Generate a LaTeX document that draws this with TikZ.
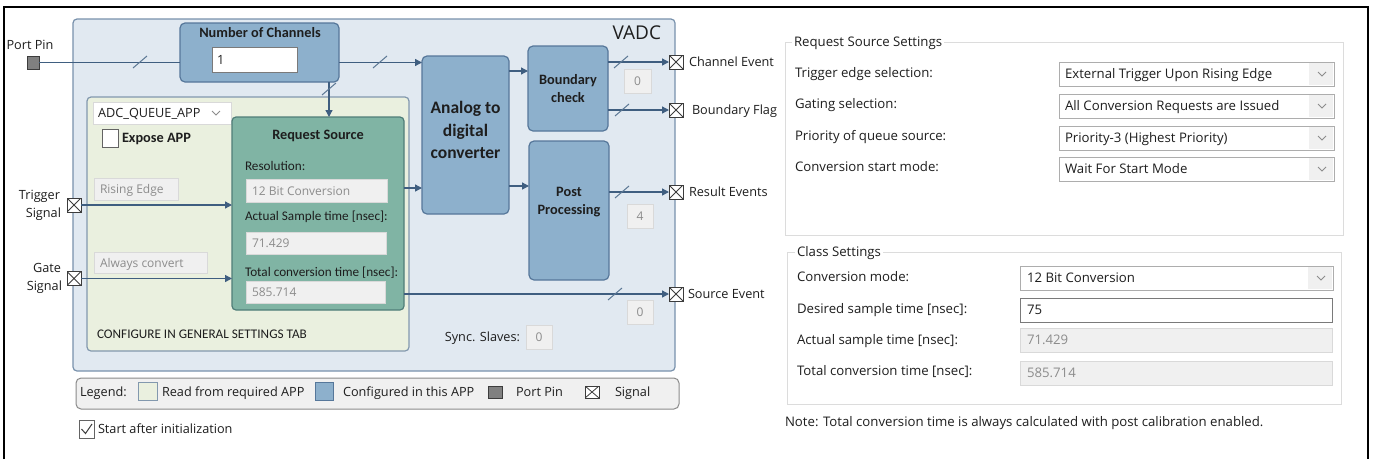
\documentclass[tikz,border=0pt]{standalone}
\usepackage{fontspec}
\setmainfont{Open Sans}
\newfontfamily\calfont{Carlito}
\usetikzlibrary{arrows.meta,calc}
\definecolor{vadcfill}{HTML}{E1E9F1}
\definecolor{vadcbord}{HTML}{7891AC}
\definecolor{bfill}{HTML}{8DB0CC}
\definecolor{bbord}{HTML}{56779A}
\definecolor{gfill}{HTML}{EAF0DF}
\definecolor{gbord}{HTML}{8298AE}
\definecolor{rsfill}{HTML}{80B4A4}
\definecolor{rsbord}{HTML}{4F7D78}
\definecolor{arrowc}{HTML}{3F5E80}
\definecolor{slashc}{HTML}{5B7794}
\definecolor{valfill}{HTML}{F0F0F0}
\definecolor{valbord}{HTML}{D9D9D9}
\definecolor{valtext}{HTML}{8C8C8C}
\definecolor{legfill}{HTML}{F0F0F0}
\definecolor{legbord}{HTML}{8A8A8A}
\definecolor{grpc}{HTML}{DCDCDC}
\definecolor{ddbord}{HTML}{ADADAD}
\definecolor{inbord}{HTML}{7A7A7A}
\definecolor{sigc}{HTML}{3C3C3C}
\definecolor{txtc}{HTML}{1E1E1E}
\newcommand\mkslash[1]{\draw[slashc, line width=1pt] ($(#1)+(-7,6)$) -- ($(#1)+(7,-6)$);}
\newcommand\mkchev[1]{\draw[valtext, line width=0.9pt] ($(#1)+(-4,-2)$) -- ++(4,4) -- ++(4,-4);}
\begin{document}
\begin{tikzpicture}[x=1pt,y=-1pt,
  every node/.style={inner sep=0pt, outer sep=0pt, text=txtc},
  vadcst/.style={draw=vadcbord, fill=vadcfill, rounded corners=4pt, line width=1.2pt, anchor=north west},
  blk/.style={draw=bbord, fill=bfill, rounded corners=5pt, line width=1.2pt, anchor=north west},
  grnst/.style={draw=gbord, fill=gfill, rounded corners=4pt, line width=1.2pt, anchor=north west},
  rsst/.style={draw=rsbord, fill=rsfill, rounded corners=4pt, line width=1.2pt, anchor=north west},
  valbox/.style={draw=valbord, fill=valfill, line width=0.8pt, anchor=north west},
  inbox/.style={draw=inbord, fill=white, line width=0.8pt, anchor=north west},
  ddbox/.style={draw=ddbord, fill=white, line width=0.8pt, anchor=north west},
  legst/.style={draw=legbord, fill=legfill, rounded corners=5pt, line width=1pt, anchor=north west},
  grpst/.style={draw=grpc, line width=1pt, anchor=north west},
  sq/.style={line width=1pt, anchor=north west},
  sig/.style={draw=sigc, fill=white, minimum width=14pt, minimum height=14pt, line width=0.9pt,
    path picture={\draw[sigc, line width=0.8pt] (path picture bounding box.north west) -- (path picture bounding box.south east) (path picture bounding box.north east) -- (path picture bounding box.south west);}},
  arr/.style={draw=arrowc, line width=1.3pt, -{Triangle[length=7pt,width=7pt]}},
  ln/.style={draw=arrowc, line width=1.3pt},
  tx/.style={font=\fontsize{12.7}{15}\selectfont, text height=9pt, text depth=0pt},
  trp/.style={font=\fontsize{13.2}{16}\selectfont, text height=9pt, text depth=0pt},
  tgv/.style={font=\fontsize{12}{14}\selectfont, text height=9pt, text depth=0pt, text=valtext},
  tcal/.style={font=\calfont\fontsize{13.2}{16}\selectfont, text height=9pt, text depth=0pt},
  tcb/.style={font=\calfont\bfseries\fontsize{14.3}{18}\selectfont, align=center},
]
\useasboundingbox (0,0) rectangle (1373,459);
\fill[white] (0,0) rectangle (1373,459);
% outer frame
\draw[black, line width=2pt] (4,459) -- (4,7) -- (1368,7) -- (1368,459);

% ---------------- left diagram ----------------
\node[vadcst, minimum width=602pt, minimum height=352pt] (vadc) at (73,19) {};
\node[font=\fontsize{19}{22}\selectfont, anchor=east, text height=13pt, text depth=0pt] (vadcl) at (661,33) {VADC};

% Port pin
\node[sq, draw=sigc, fill=black!50, minimum width=12pt, minimum height=13pt] (pp) at (27,56) {};
\node[tx] (ppl) at (30,45) {Port Pin};

% Number of channels
\node[blk, minimum width=159pt, minimum height=59pt] (nc) at (180,23) {};
\node[tcb] (nct) at (260,33) {Number of Channels};
\node[inbox, minimum width=85pt, minimum height=25pt] (ncin) at (212,47) {};
\node[tx, anchor=west] (ncv) at (217,59.5) {1};

% ADC
\node[blk, minimum width=87pt, minimum height=158pt] (adc) at (422,56) {};
\node[font=\calfont\bfseries\fontsize{17.5}{22.5}\selectfont, align=center] (adct) at (465.5,130) {Analog to\\digital\\converter};

% Boundary check
\node[blk, minimum width=80pt, minimum height=85pt] (bc) at (528,46) {};
\node[tcb] (bct) at (568,89) {Boundary\\check};

% Post processing
\node[blk, minimum width=80pt, minimum height=139pt] (pst) at (529,141) {};
\node[tcb] (pstt) at (569,202) {Post\\Processing};

% green container
\node[grnst, minimum width=322pt, minimum height=254pt] (grn) at (87,97) {};
\node[ddbox, draw=valbord, minimum width=138pt, minimum height=22pt] (dd) at (93,102) {};
\node[tx, anchor=west] (ddt) at (98,113) {ADC\_QUEUE\_APP};
\mkchev{216,113}
\node[sq, draw=sigc!80, fill=white, line width=0.8pt, minimum width=16pt, minimum height=18pt] (exb) at (102,129) {};
\node[font=\calfont\bfseries\fontsize{14.3}{17}\selectfont, text height=9pt, text depth=0pt, anchor=west] (ext) at (122,138) {Expose APP};
\node[valbox, minimum width=84pt, minimum height=22pt] (rise) at (94,178) {};
\node[tgv, anchor=west] (riset) at (100,189) {Rising Edge};
\node[valbox, minimum width=113pt, minimum height=21pt] (alw) at (94,252) {};
\node[tgv, anchor=west] (alwt) at (100,262.5) {Always convert};
\node[tcal, anchor=west] (cfg) at (97,334) {CONFIGURE IN GENERAL SETTINGS TAB};

% Request source
\node[rsst, minimum width=172pt, minimum height=193pt] (rs) at (232,117) {};
\node[tcb] (rst) at (318,136) {Request Source};
\node[tcal, anchor=west] (resl) at (245,166) {Resolution:};
\node[valbox, minimum width=141pt, minimum height=23pt] (resv) at (246,179) {};
\node[tgv, anchor=west] (resvt) at (252,190.5) {12 Bit Conversion};
\node[tcal, anchor=west] (asl) at (245,216) {Actual Sample time [nsec]:};
\node[valbox, minimum width=140pt, minimum height=22pt] (asv) at (246,232) {};
\node[tgv, anchor=west] (asvt) at (252,243) {71.429};
\node[tcal, anchor=west] (tcl) at (245,272) {Total conversion time [nsec]:};
\node[valbox, minimum width=139pt, minimum height=22pt] (tcv) at (246,281) {};
\node[tgv, anchor=west] (tcvt) at (252,292) {585.714};

% input signals
\node[sig] (ts) at (74,205) {};
\node[tx, anchor=east] (tsl1) at (60,195) {Trigger};
\node[tx, anchor=east] (tsl2) at (61,213) {Signal};
\node[sig] (gs) at (74,278.5) {};
\node[tx, anchor=east] (gsl1) at (61,268) {Gate};
\node[tx, anchor=east] (gsl2) at (62,286) {Signal};

% output signals
\node[sig] (ce) at (676,62) {};
\node[tx, anchor=west] (cel) at (689,62) {Channel Event};
\node[sig] (bf) at (676,110) {};
\node[tx, anchor=west] (bfl) at (692,110) {Boundary Flag};
\node[sig] (re) at (676,192) {};
\node[tx, anchor=west] (rel) at (689,192) {Result Events};
\node[sig] (se) at (676,294) {};
\node[tx, anchor=west] (sel) at (688,294) {Source Event};

% value boxes
\node[valbox, minimum width=27pt, minimum height=24pt] (cev) at (624,69) {};
\node[tgv] at (cev.center) {0};
\node[valbox, minimum width=26pt, minimum height=24pt] (rev) at (627,204) {};
\node[tgv] at (rev.center) {4};
\node[valbox, minimum width=26pt, minimum height=24pt] (sev) at (627,300) {};
\node[tgv] at (sev.center) {0};
\node[valbox, minimum width=26pt, minimum height=24pt] (syv) at (526,325) {};
\node[tgv] at (syv.center) {0};
\node[tx, anchor=east] (syl) at (520,337) {Sync. Slaves:};

% connectors
\coordinate (xv) at (329,0);
\coordinate (y71) at (0,71);
\coordinate (y186) at (0,186);
\coordinate (y188) at (0,188);
\draw[ln] (pp.east) -- (pp.east -| nc.west);
\mkslash{140,62}
\draw[arr] (nc.east |- pp.east) -- (adc.west |- pp.east);
\mkslash{380,62}
\draw[arr] (nc.south -| xv) -- (rs.north -| xv);
\mkslash{329,89}
\draw[arr] (adc.east |- y71) -- (bc.west |- y71);
\draw[arr] (adc.east |- y186) -- (pst.west |- y186);
\draw[arr] (rs.east |- y188) -- (adc.west |- y188);
\draw[arr] (ts.east) -- (rs.west |- ts.east);
\draw[arr] (gs.east) -- (rs.west |- gs.east);
\draw[arr] (bc.east |- ce.west) -- (ce.west);
\mkslash{621,62}
\draw[arr] (bc.east |- bf.west) -- (bf.west);
\mkslash{622,110}
\draw[arr] (pst.east |- re.west) -- (re.west);
\mkslash{622,192}
\draw[arr] (rs.east |- se.west) -- (se.west);
\mkslash{615,294}

% legend
\node[legst, minimum width=603pt, minimum height=31pt] (leg) at (76,378) {};
\node[tx, anchor=west] (legl) at (80,392) {Legend:};
\node[sq, draw=gbord, fill=gfill, minimum width=19pt, minimum height=18pt] (lg1) at (138,382) {};
\node[tx, anchor=west] (lg1t) at (162,392) {Read from required APP};
\node[sq, draw=bbord, fill=bfill, minimum width=18pt, minimum height=18pt] (lg2) at (315,382) {};
\node[tx, anchor=west] (lg2t) at (343,392) {Configured in this APP};
\node[sq, draw=sigc, fill=black!50, minimum width=14pt, minimum height=12pt] (lg3) at (488,386) {};
\node[tx, anchor=west] (lg3t) at (516,392) {Port Pin};
\node[sig, minimum width=14pt, minimum height=12pt] (lg4) at (592,392) {};
\node[tx, anchor=west] (lg4t) at (615,392) {Signal};

% start after init
\node[sq, draw=sigc!80, fill=white, line width=0.8pt, minimum width=15pt, minimum height=18pt] (sai) at (79,420) {};
\draw[sigc, line width=1pt] (81.5,429) -- (85.5,433.5) -- (92,424);
\node[tx, anchor=west] (sait) at (98,429) {Start after initialization};

% ---------------- right panel ----------------
\node[grpst, minimum width=558pt, minimum height=193pt] (rss) at (785,42) {};
\node[trp, anchor=west, fill=white, inner xsep=2pt] (rsst) at (792,42) {Request Source Settings};
\node[trp, anchor=west] (r1l) at (795,73) {Trigger edge selection:};
\node[trp, anchor=west] (r2l) at (795,104) {Gating selection:};
\node[trp, anchor=west] (r3l) at (795,136) {Priority of queue source:};
\node[trp, anchor=west] (r4l) at (795,167) {Conversion start mode:};
\foreach \n/\yy/\t in {d1/62/External Trigger Upon Rising Edge, d2/94/All Conversion Requests are Issued, d3/126/Priority-3 (Highest Priority), d4/157/Wait For Start Mode}{
  \node[ddbox, minimum width=275pt, minimum height=24pt] (\n) at (1059,\yy) {};
  \fill[valfill] ($(\n.north east)+(-25,1)$) rectangle ($(\n.south east)+(-1,-1)$);
  \mkchev{$(\n.east)+(-12,0)$}
  \node[trp, anchor=west] at ($(\n.west)+(6,0)$) {\t};
}

\node[grpst, minimum width=554pt, minimum height=152pt] (cls) at (787,252) {};
\node[trp, anchor=west, fill=white, inner xsep=2pt] (clst) at (795,252) {Class Settings};
\node[trp, anchor=west] (c1l) at (797,277) {Conversion mode:};
\node[trp, anchor=west] (c2l) at (797,309) {Desired sample time [nsec]:};
\node[trp, anchor=west] (c3l) at (797,340) {Actual sample time [nsec]:};
\node[trp, anchor=west] (c4l) at (797,371) {Total conversion time [nsec]:};
\node[ddbox, minimum width=313pt, minimum height=24pt] (cm) at (1020,266) {};
\fill[valfill] ($(cm.north east)+(-25,1)$) rectangle ($(cm.south east)+(-1,-1)$);
\mkchev{$(cm.east)+(-12,0)$}
\node[trp, anchor=west] at ($(cm.west)+(7,0)$) {12 Bit Conversion};
\node[inbox, minimum width=312pt, minimum height=24pt] (dst) at (1020,298) {};
\node[trp, anchor=west] at ($(dst.west)+(7,0)$) {75};
\node[valbox, minimum width=312pt, minimum height=24pt] (ast) at (1020,328) {};
\node[trp, anchor=west, text=valtext] at ($(ast.west)+(7,0)$) {71.429};
\node[valbox, minimum width=312pt, minimum height=24pt] (tst) at (1020,361) {};
\node[trp, anchor=west, text=valtext] at ($(tst.west)+(7,0)$) {585.714};
\node[trp, anchor=west] (note) at (785,422) {Note: Total conversion time is always calculated with post calibration enabled.};
\end{tikzpicture}
\end{document}
